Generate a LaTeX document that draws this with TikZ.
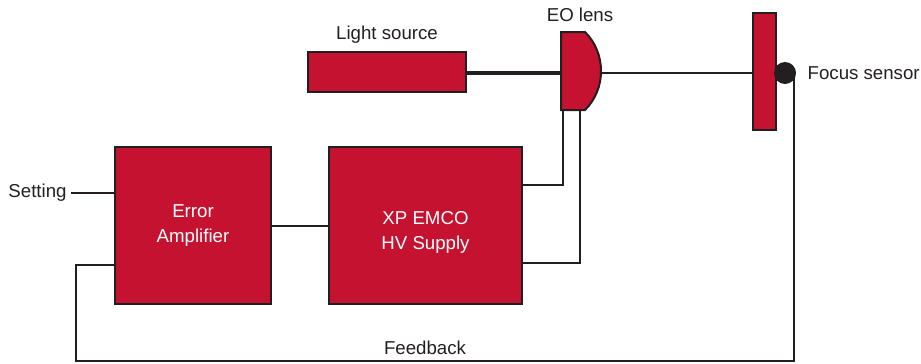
\documentclass[tikz,border=0pt]{standalone}
\usepackage{fontspec}
\setmainfont{Liberation Sans}
\usetikzlibrary{positioning}
\definecolor{blockred}{HTML}{C41230}
\definecolor{wirecol}{HTML}{231F20}
\tikzset{
    block/.style={
        draw=wirecol,
        fill=blockred,
        line width=1.5pt,
        inner sep=0pt,
        text=white,
        align=center,
        font=\fontsize{14}{18.75}\selectfont
    },
    wire/.style={draw=wirecol, line width=1.5pt},
    beam/.style={draw=wirecol, line width=3pt},
    caption/.style={text=wirecol, font=\fontsize{14}{17}\selectfont}
}

\begin{document}
\begin{tikzpicture}[
    x=0.75pt,
    y=-0.75pt
]
    \useasboundingbox (0,0) rectangle (921,364);

    % Bloques
    \node[block, minimum width=117pt, minimum height=117.75pt]
        (amp) at (193,225.5) {Error\\Amplifier};
    \node[block, minimum width=144.75pt, minimum height=117.75pt,
        text height=39pt]
        (hv) at (425.5,225.5) {XP EMCO\\HV Supply};
    \node[block, minimum width=118.5pt, minimum height=30pt]
        (ls) at (387,72) {};
    \node[block, minimum width=17.25pt, minimum height=87.75pt]
        (sensor) at (764.5,71.5) {};
    \node[circle, fill=wirecol, inner sep=0pt, minimum size=16.5pt]
        (dot) at (785,73) {};

    % Lente
    \coordinate (lensL) at (561,73);
    \coordinate (lensR) at (601,73);
    \coordinate (legA)  at (563,110);
    \coordinate (legB)  at (580,110);
    \coordinate (fb)    at (76,361);

    % Textos
    \node[caption] (settext) at (37.5,193) {Setting};
    \node[caption] (lstext)  at (387,35)   {Light source};
    \node[caption] (eotext)  at (580,15)   {EO lens};
    \node[caption, right=5pt of dot, anchor=west] (fstext) {Focus sensor};
    \node[caption] (fbtext)  at (425,348)  {Feedback};

    % Conexiones
    \draw[wire] (settext.east) -- (settext.east -| amp.west);
    \draw[wire] (amp) -- (hv);
    \draw[wire] (hv.north east) ++(0,39) -| (legA);
    \draw[wire] (hv.north east) ++(0,117) -| (legB);
    \draw[beam] (ls.east |- lensL) -- (lensL);
    \draw[wire] (lensR) -- (lensR -| sensor.west);
    \draw[wire] ([xshift=6.75pt]dot.center) |- (fb)
        |- ([yshift=30pt]amp.south west);

    % Forma de la lente
    \draw[draw=wirecol, fill=blockred, line width=1.5pt]
        (561,32) -- (585,32)
        .. controls (596,43) and (601,57) .. (601,71)
        .. controls (601,85) and (596,99) .. (585,110)
        -- (561,110) -- cycle;

\end{tikzpicture}
\end{document}
